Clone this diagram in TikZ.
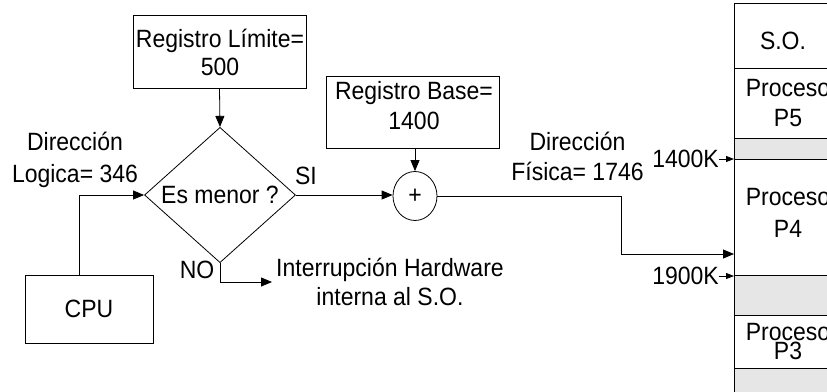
\documentclass[tikz,border=0pt]{standalone}
\usepackage{fontspec}
\setmainfont{Liberation Sans}[FakeStretch=0.92]
\usetikzlibrary{shapes.geometric,arrows.meta}
\definecolor{memgrey}{HTML}{E6E6E6}
\begin{document}
\begin{tikzpicture}[x=1pt,y=-1pt,
  every node/.style={font=\fontsize{25}{30}\selectfont, inner sep=0pt},
  ln/.style={line width=0.8pt},
  boxed/.style={draw, ln},
  lbl/.style={align=center},
  arr/.style={ln, -{Triangle[length=11pt,width=9pt]}},
  sarr/.style={ln, -{Triangle[length=8pt,width=6pt]}},
  memsec/.style={draw, ln, anchor=north west, minimum width=120pt},
  memfree/.style={memsec, fill=memgrey}]
\useasboundingbox (0,0) rectangle (827,391);
\clip (0,0) rectangle (827,391);

% boxes
\node[boxed, minimum width=173pt, minimum height=73pt] (limbox) at (219.5,51.5) {};
\node[lbl, font=\fontsize{25}{28}\selectfont] (limtxt) at (220,52.5) {Registro Límite=\\500};
\node[boxed, minimum width=173pt, minimum height=72pt] (basebox) at (412.5,112) {};
\node[lbl] (basetxt) at (414,106) {Registro Base=\\1400};
\node[boxed, diamond, minimum width=151pt, minimum height=120pt] (dia) at (220,195) {Es menor ?};
\node[boxed, ellipse, minimum width=44pt, minimum height=49pt] (plus) at (415,196) {+};
\node[boxed, minimum width=128pt, minimum height=68pt] (cpu) at (89,309) {CPU};

% labels
\node (si) at (306,176) {SI};
\node (no) at (197,270) {NO};
\node[lbl, font=\fontsize{25}{32}\selectfont] (dlog) at (75,160) {Dirección\\Logica= 346};
\node[lbl] (dfis) at (577.5,156.5) {Dirección\\Física= 1746};
\node[lbl, font=\fontsize{25}{29}\selectfont] (intr) at (390,282) {Interrupción Hardware\\interna al S.O.};

% memory
\node[memsec, minimum height=65pt] (so) at (734,3) {};
\node[memsec, minimum height=70pt] (p5) at (734,68) {};
\node[memfree, minimum height=21pt] (g1) at (734,138) {};
\node[memsec, minimum height=116pt] (p4) at (734,159) {};
\node[memfree, minimum height=40pt] (g2) at (734,275) {};
\node[memsec, minimum height=53pt] (p3) at (734,315) {};
\node[memfree, minimum height=40pt] (g3) at (734,368) {};
\node (sotxt) at (783,40.5) {S.O.};
\node[lbl] (p5txt) at (788,103) {Proceso\\P5};
\node[lbl, font=\fontsize{25}{32}\selectfont] (p4txt) at (788,212.5) {Proceso\\P4};
\node[lbl, font=\fontsize{25}{16}\selectfont] (p3txt) at (788,341.5) {Proceso\\P3};
\node (k1400) at (685.5,159) {1400K};
\node (k1900) at (685.5,276) {1900K};

% connectors
\coordinate (noend) at (272,282);
\coordinate (p4in) at (734,254);
\draw[arr] (limbox.south) -- (dia.north);
\draw[arr] ([xshift=-10pt]cpu.north) |- (dia.west);
\draw[arr] (dia.east) -- (dia.east -| plus.west);
\draw[arr] (plus.north |- basebox.south) -- (plus.north);
\draw[arr] (dia.south) |- (noend);
\draw[arr] (plus.east) -- ++(184,0) |- (p4in);
\draw[sarr] (k1400.east) -- (k1400.east -| p4.west);
\draw[sarr] (k1900.east) -- (k1900.east -| g2.west);
\end{tikzpicture}
\end{document}
